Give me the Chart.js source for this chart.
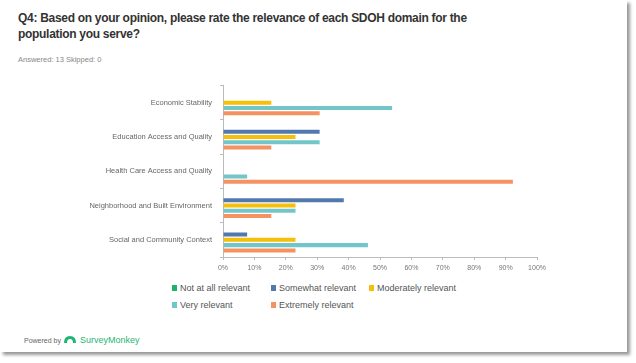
<!DOCTYPE html>
<html>
<head>
<meta charset="utf-8">
<script src="https://cdn.jsdelivr.net/npm/chart.js@4"></script>
<style>
  body { margin: 0; background: #fff; font-family: "Liberation Sans", Arial, sans-serif; }
  #card { position: absolute; left: 0; top: 0; width: 627px; height: 352px; background: #fff;
          box-shadow: 3px 3px 3px #9a9a9a; }
  #title { position: absolute; left: 18px; top: 10px; width: 472px; font-size: 12px; font-weight: bold;
           color: #333; line-height: 16px; letter-spacing: -0.3px; }
  #answered { position: absolute; left: 18px; top: 55px; font-size: 7.5px; color: #888; }
  #chartBox { position: absolute; left: 0; top: 73px; width: 550px; height: 207px; }
  #legend { position: absolute; left: 172px; top: 283px; width: 320px; font-size: 9px; color: #555; }
  .item { position: absolute; white-space: nowrap; }
  .item span { display: inline-block; width: 5px; height: 6px; margin-right: 3px; }
  #footer { position: absolute; left: 24px; top: 337px; font-size: 7px; color: #666; }
  #logo { position: absolute; left: 63px; top: 335px; width: 14px; height: 8px; }
  #brand { position: absolute; left: 80px; top: 335px; font-size: 9px; color: #1fb574; }
</style>
</head>
<body>
<div id="card">
  <div id="title">Q4: Based on your opinion, please rate the relevance of each SDOH domain for the population you serve?</div>
  <div id="answered">Answered: 13 Skipped: 0</div>
  <div id="chartBox"><canvas id="chart"></canvas></div>
  <div id="legend"></div>
  <div id="footer">Powered by</div>
  <svg id="logo" viewBox="0 0 14 8"><path d="M1 8 Q1 1 7 1 Q13 1 13 8 L10 8 Q10 4 7 4 Q4 4 4 8 Z" fill="#1fb574"/></svg>
  <div id="brand">SurveyMonkey</div>
</div>
<script>
const categories = [
  "Economic Stability",
  "Education Access and Quality",
  "Health Care Access and Quality",
  "Neighborhood and Built Environment",
  "Social and Community Context"
];
const seriesNames = ["Not at all relevant", "Somewhat relevant", "Moderately relevant", "Very relevant", "Extremely relevant"];
const seriesColors = ["#1db36e", "#5279ae", "#f5bf0a", "#72c6ca", "#f59262"];

const notAtAll = [0, 0, 0, 0, 0];
const somewhat = [0, 30.77, 0, 38.46, 7.69];
const moderately = [15.38, 23.08, 0, 23.08, 23.08];
const very = [53.85, 30.77, 7.69, 23.08, 46.15];
const extremely = [30.77, 15.38, 92.31, 15.38, 23.08];

const tickValues = [0, 10, 20, 30, 40, 50, 60, 70, 80, 90, 100];

const allSeries = [notAtAll, somewhat, moderately, very, extremely];

const datasets = allSeries.map((values, i) => ({
  label: seriesNames[i],
  data: values,
  backgroundColor: seriesColors[i],
  categoryPercentage: 0.77,
  barPercentage: 0.76
}));

new Chart(document.getElementById("chart"), {
  type: "bar",
  data: { labels: categories, datasets },
  options: {
    indexAxis: "y",
    responsive: true,
    maintainAspectRatio: false,
    animation: false,
    layout: { padding: { top: 4, right: 0, left: 0, bottom: 0 } },
    plugins: { legend: { display: false }, tooltip: { enabled: false } },
    scales: {
      x: {
        min: 0,
        max: 100,
        afterBuildTicks: (scale) => { scale.ticks = tickValues.map(v => ({ value: v })); },
        afterFit: (scale) => { scale.height = 23; },
        grid: { drawOnChartArea: false, color: "#bbb", tickLength: 3 },
        border: { color: "#bbb" },
        ticks: { color: "#777", font: { size: 7, family: "Liberation Sans" }, padding: 4,
                 callback: (v) => v + "%" }
      },
      y: {
        afterFit: (scale) => { scale.width = 223; },
        grid: { drawOnChartArea: false, color: "#bbb", tickLength: 3 },
        border: { color: "#bbb" },
        ticks: { color: "#666", font: { size: 7.5, family: "Liberation Sans" }, padding: 8 }
      }
    }
  }
});

const legendEl = document.getElementById("legend");
const legendPos = [[0, 0], [99, 0], [197, 0], [0, 17], [99, 17]];
seriesNames.forEach((name, i) => {
  const item = document.createElement("div");
  item.className = "item";
  item.style.left = legendPos[i][0] + "px";
  item.style.top = legendPos[i][1] + "px";
  item.innerHTML = `<span style="background:${seriesColors[i]}"></span>${name}`;
  legendEl.appendChild(item);
});
</script>
</body>
</html>
